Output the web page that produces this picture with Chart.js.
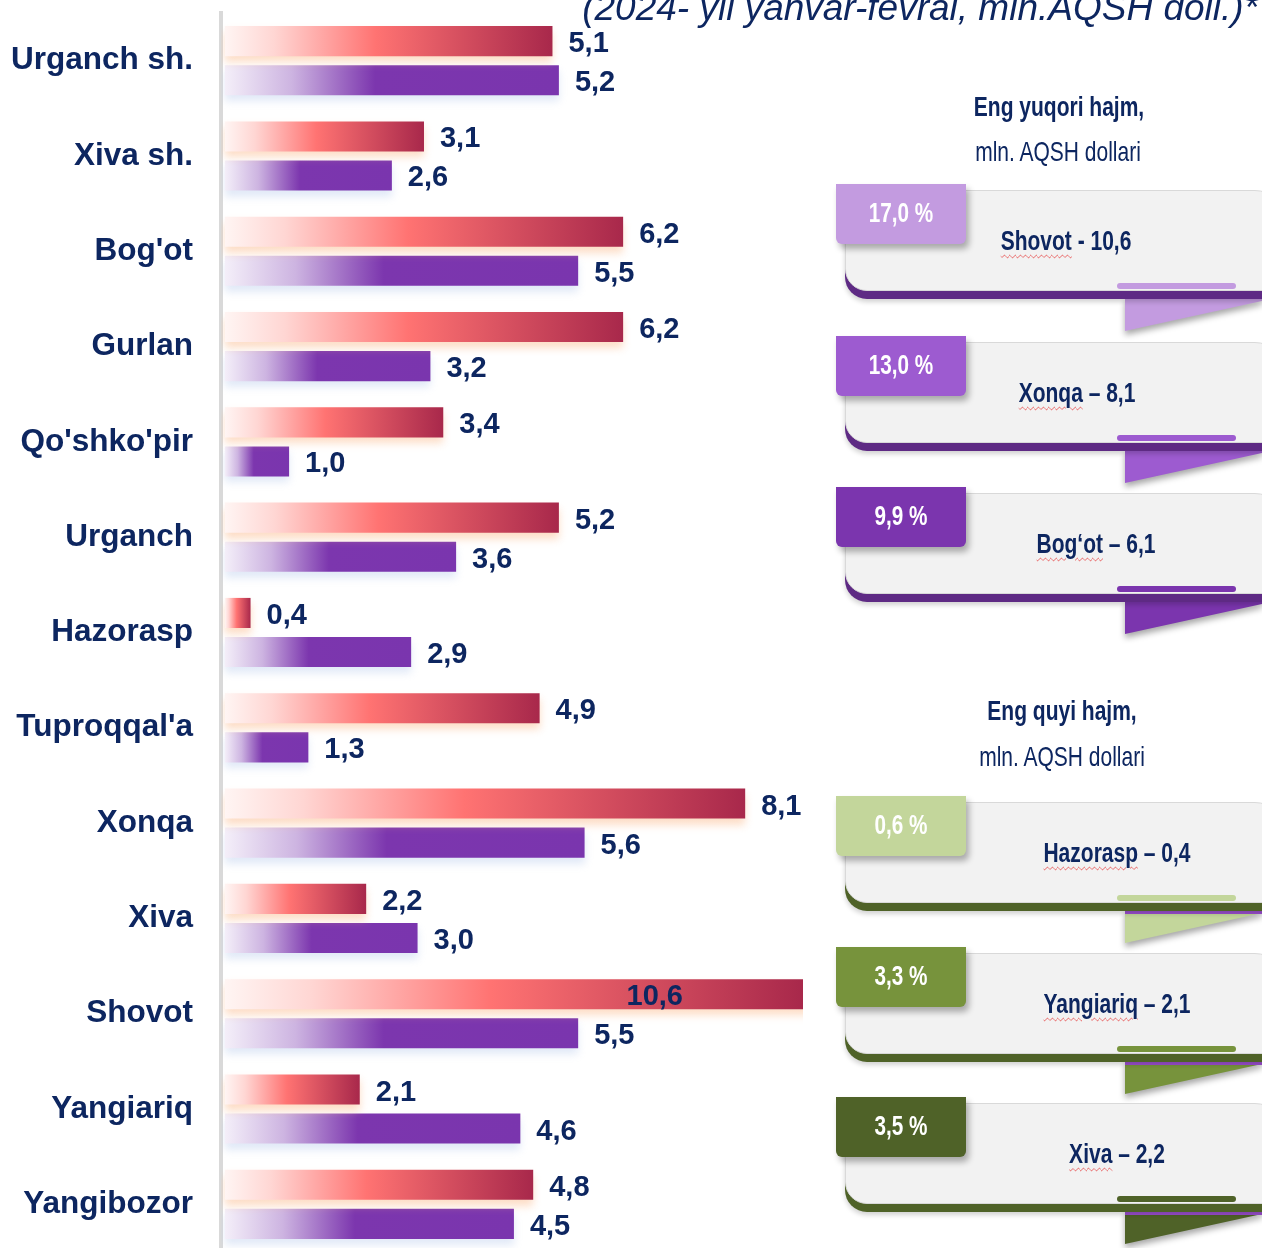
<!DOCTYPE html>
<html>
<head>
<meta charset="utf-8">
<script src="https://cdn.jsdelivr.net/npm/chart.js@4.4.1/dist/chart.umd.min.js"></script>
<style>
    html, body { margin: 0; padding: 0; background: #fff; overflow: hidden; }
    body { width: 1262px; height: 1248px; position: relative; font-family: "Liberation Sans", Arial, sans-serif; }
    #chart { position: absolute; left: 0; top: 0; }
    .title { position: absolute; right: 4px; top: -11px; font-style: italic; font-size: 37px; line-height: 37px; color: #0d2660; white-space: nowrap; }
    .txt { position: absolute; white-space: nowrap; line-height: 1; color: #0d2660; transform: translate(-50%, -50%) scaleX(0.75); }
    .head { font-size: 28px; font-weight: bold; }
    .sub { font-size: 28px; }
    .badge { position: absolute; left: 836px; width: 130px; height: 60px; border-radius: 0 0 6px 6px; box-shadow: 3px 5px 6px rgba(0,0,0,0.3); z-index: 3; }
    .badge span { position: absolute; left: 50%; top: 50%; color: #fff; font-size: 28px; font-weight: bold; line-height: 1; white-space: nowrap; transform: translate(-50%, -55%) scaleX(0.74); }
    .body { position: absolute; left: 845px; width: 440px; height: 101px; background: #f2f2f2; border: 1px solid #d9d9d9; border-radius: 0 30px 0 22px; box-sizing: border-box; z-index: 2; }
    .name { font-size: 28px; font-weight: bold; z-index: 4; }
    .name u { text-decoration: underline wavy rgba(230,70,70,0.85); text-decoration-thickness: 1px; text-underline-offset: 4px; }
    .mini { position: absolute; left: 1117px; width: 119px; height: 6px; border-radius: 3px; z-index: 3; }
    .fold { position: absolute; left: 1125px; width: 137px; height: 34px; filter: drop-shadow(0 4px 3px rgba(0,0,0,0.35)); z-index: 1; }
    .fold div { width: 100%; height: 100%; clip-path: polygon(0 0, 100% 0, 100% 12%, 0 100%); }
    .strip { position: absolute; left: 1125px; width: 137px; height: 5px; background: #9b4fd0; z-index: 1; }
</style>
</head>
<body>
<canvas id="chart" width="1262" height="1252"></canvas>
<div class="title">(2024- yil yanvar-fevral, mln.AQSH doll.)*</div>
<div id="cards"></div>
<script>
const categories = ["Urganch sh.", "Xiva sh.", "Bog'ot", "Gurlan", "Qo'shko'pir", "Urganch", "Hazorasp", "Tuproqqal'a", "Xonqa", "Xiva", "Shovot", "Yangiariq", "Yangibozor"];
const values2024 = [5.1, 3.1, 6.2, 6.2, 3.4, 5.2, 0.4, 4.9, 8.1, 2.2, 10.6, 2.1, 4.8];
const values2023 = [5.2, 2.6, 5.5, 3.2, 1.0, 3.6, 2.9, 1.3, 5.6, 3.0, 5.5, 4.6, 4.5];

// right side panels
const topShares = ['17,0 %', '13,0 %', '9,9 %'];
const topNames = ['Shovot', 'Xonqa', 'Bog‘ot'];
const topTails = [' - 10,6', ' – 8,1', ' – 6,1'];
const lowShares = ['0,6 %', '3,3 %', '3,5 %'];
const lowNames = ['Hazorasp', 'Yangiariq', 'Xiva'];
const lowTails = [' – 0,4', ' – 2,1', ' – 2,2'];

const NAVY = '#0d2660';
const FONT = '"Liberation Sans", Arial, sans-serif';

function barGradient(stops) {
    return (c) => {
        const chart = c.chart;
        const xs = chart.scales.x;
        if (!chart.chartArea || !xs) return stops[stops.length - 1][1];
        const v = c.raw;
        const x0 = xs.getPixelForValue(0);
        const x1 = xs.getPixelForValue(Math.min(v, xs.max));
        const g = chart.ctx.createLinearGradient(x0, 0, Math.max(x1, x0 + 1), 0);
        stops.forEach(s => g.addColorStop(s[0], s[1]));
        return g;
    };
}

const redStops = [[0, '#fff5f3'], [0.15, '#ffd6d3'], [0.46, '#ff7372'], [1, '#a8284b']];
const purpleStops = [[0, '#f4eff9'], [0.2, '#cdb4e1'], [0.45, '#7c36ae'], [1, '#7a35ae']];

const shadowPlugin = {
    id: 'barShadow',
    beforeDatasetDraw(chart, args) {
        const ds = chart.data.datasets[args.index];
        const ctx = chart.ctx;
        ctx.save();
        ctx.shadowColor = ds.shadowColor;
        ctx.shadowOffsetY = 6;
        ctx.shadowBlur = 8;
    },
    afterDatasetDraw(chart) {
        chart.ctx.restore();
    }
};

const valueLabels = {
    id: 'valueLabels',
    afterDatasetsDraw(chart) {
        const ctx = chart.ctx;
        const xs = chart.scales.x;
        ctx.save();
        ctx.font = 'bold 29px ' + FONT;
        ctx.fillStyle = NAVY;
        ctx.textBaseline = 'middle';
        chart.data.datasets.forEach((ds, i) => {
            chart.getDatasetMeta(i).data.forEach((el, j) => {
                const v = ds.data[j];
                const txt = v.toFixed(1).replace('.', ',');
                if (v > xs.max) {
                    ctx.textAlign = 'right';
                    ctx.fillText(txt, chart.chartArea.right - 120, el.y + 3);
                } else {
                    ctx.textAlign = 'left';
                    ctx.fillText(txt, el.x + 16, el.y + 3);
                }
            });
        });
        ctx.restore();
    }
};

new Chart(document.getElementById('chart'), {
    type: 'bar',
    data: {
        labels: categories,
        datasets: [{
            label: '2024-yil',
            data: values2024,
            backgroundColor: barGradient(redStops),
            shadowColor: 'rgba(250, 180, 130, 0.45)'
        }, {
            label: '2023-yil',
            data: values2023,
            backgroundColor: barGradient(purpleStops),
            shadowColor: 'rgba(180, 200, 235, 0.4)'
        }]
    },
    options: {
        indexAxis: 'y',
        responsive: false,
        animation: false,
        layout: { padding: { top: 13, right: 459, bottom: 0, left: 0 } },
        datasets: { bar: { categoryPercentage: 0.82, barPercentage: 0.77 } },
        plugins: {
            legend: { display: false },
            tooltip: { enabled: false }
        },
        scales: {
            x: { display: false, min: -0.06, max: 9.0 },
            y: {
                afterFit: (s) => {
                    s.width = 221;
                    s.paddingTop = 0;
                    s.paddingBottom = 0;
                },
                grid: { display: false, drawTicks: false },
                border: { display: true, color: '#d9d9d9', width: 4 },
                ticks: {
                    padding: 28,
                    color: NAVY,
                    font: { family: FONT, size: 31.5, weight: 'bold' }
                }
            }
        }
    },
    plugins: [shadowPlugin, valueLabels]
});

// build the info cards
const cards = document.getElementById('cards');

function addText(cls, text, cx, cy) {
    const d = document.createElement('div');
    d.className = 'txt ' + cls;
    d.style.left = cx + 'px';
    d.style.top = cy + 'px';
    d.innerHTML = text;
    cards.appendChild(d);
}

function addCard(top, share, name, tail, color, band, textX, green) {
    cards.insertAdjacentHTML('beforeend', `
        <div class="fold" style="top:${top + 113}px"><div style="background:${color}"></div></div>
        ${green ? `<div class="strip" style="top:${top + 113}px"></div>` : ''}
        <div class="body" style="top:${top + 6}px; box-shadow: 0 8px 0 ${band}, 0 11px 5px rgba(0,0,0,0.18);"></div>
        <div class="mini" style="top:${top + 99}px; background:${color}"></div>
        <div class="badge" style="top:${top}px; background:${color}"><span>${share}</span></div>
    `);
    const d = document.createElement('div');
    d.className = 'txt name';
    d.style.left = textX + 'px';
    d.style.top = (top + 57) + 'px';
    d.innerHTML = `<u>${name}</u>${tail}`;
    cards.appendChild(d);
}

addText('head', 'Eng yuqori hajm,', 1059, 107);
addText('sub', 'mln. AQSH dollari', 1058, 152);
addText('head', 'Eng quyi hajm,', 1062, 711);
addText('sub', 'mln. AQSH dollari', 1062, 757);

const topTops = [184, 336, 487];
const topColors = ['#c39be0', '#9d5bd0', '#7b35ae'];
const topTextX = [1066, 1077, 1096];
topTops.forEach((t, i) => addCard(t, topShares[i], topNames[i], topTails[i], topColors[i], '#5e2a84', topTextX[i], false));

const lowTops = [796, 947, 1097];
const lowColors = ['#c3d69b', '#77933c', '#4f6228'];
const lowTextX = [1117, 1117, 1117];
lowTops.forEach((t, i) => addCard(t, lowShares[i], lowNames[i], lowTails[i], lowColors[i], '#4f6228', lowTextX[i], true));
</script>
</body>
</html>
